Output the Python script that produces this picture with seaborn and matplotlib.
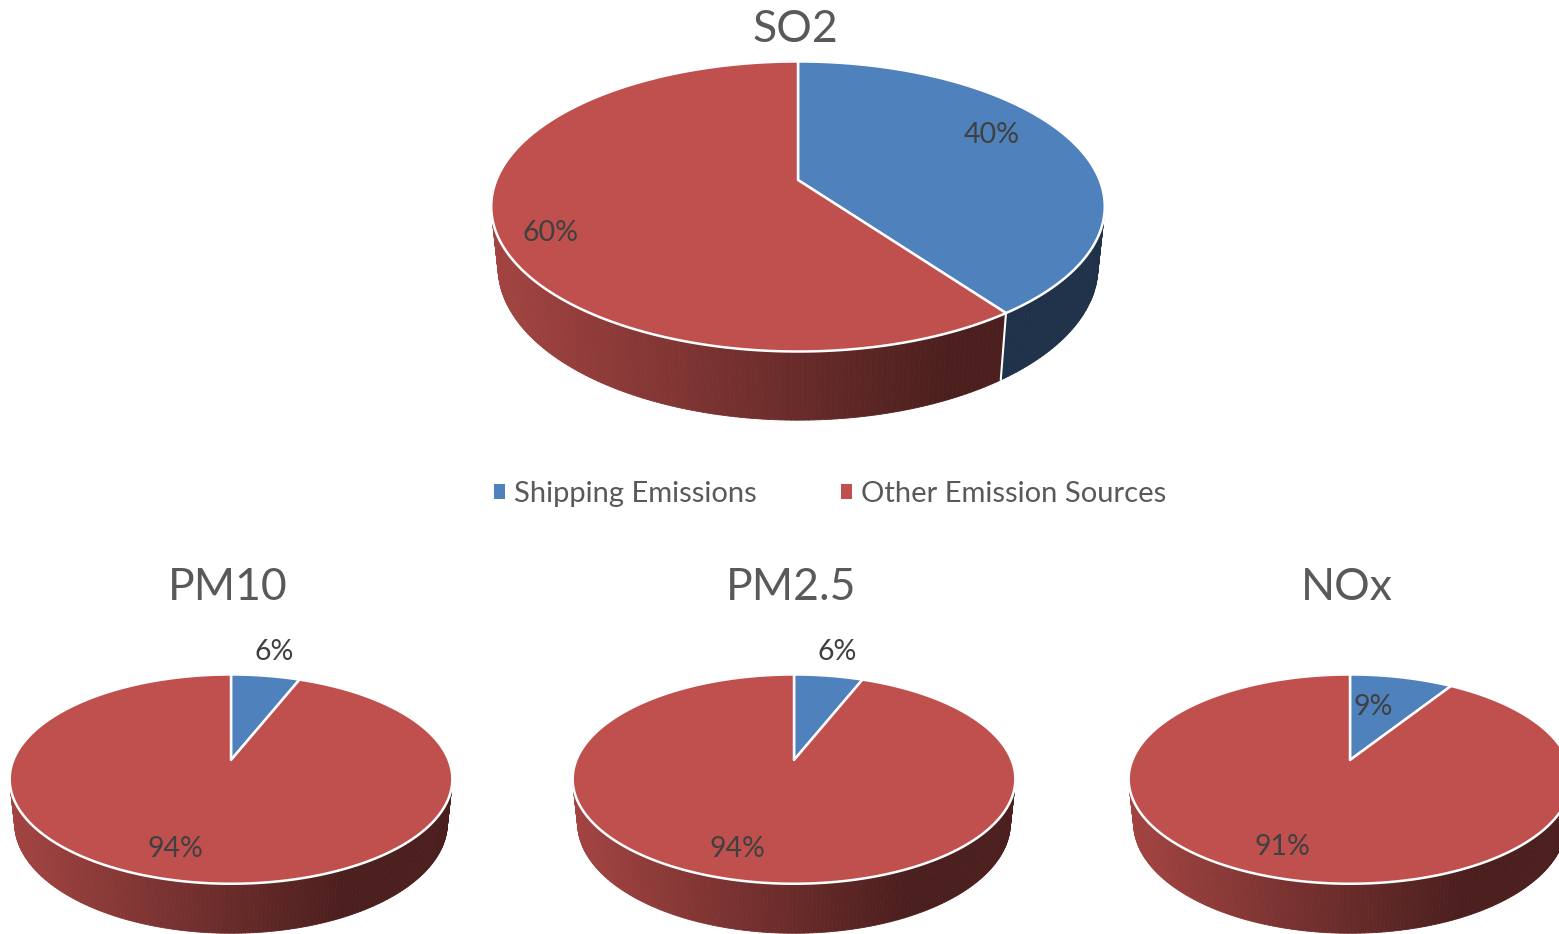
import numpy as np
import matplotlib
matplotlib.use("Agg")
import matplotlib.pyplot as plt
from matplotlib.collections import PolyCollection
from matplotlib.patches import Polygon, Patch
import seaborn as sns

# data (percent of total emissions)
pollutants = ["SO2", "PM10", "PM2.5", "NOx"]
sources = ["Shipping Emissions", "Other Emission Sources"]
shipping = [40, 6, 6, 9]
other = [60, 94, 94, 91]

sns.set_theme(style="white")
plt.rcParams["font.family"] = ["Lato", "DejaVu Sans"]

colors = sns.color_palette(["#4F81BD", "#C0504D"])

# layout in pixels: pie centre (apex of slices) and radius scale
W, H = 1559, 934
pie_pos = {"SO2": (798, 180, 301.6), "PM10": (231, 760, 217.6),
           "PM2.5": (794, 760, 217.6), "NOx": (1350, 760, 217.6)}
title_y = {"SO2": 30, "PM10": 588, "PM2.5": 588, "NOx": 588}
label_off = {"SO2": [(194, -45), (-247, 53)], "PM10": [(43, -108), (-56, 89)],
             "PM2.5": [(43, -108), (-57, 89)], "NOx": [(23, -53), (-68, 87)]}

# simple perspective camera
ELEV = np.radians(27.7)
DIST = 4.85
DEPTH = 0.23


def project(cx, cy, s, X, Y, Z):
    w = (DIST - Y * np.cos(ELEV) - Z * np.sin(ELEV)) / DIST
    return cx + s * X / w, cy + s * (Y * np.sin(ELEV) - Z * np.cos(ELEV)) / w


def rim(cx, cy, s, th, z):
    return np.column_stack(project(cx, cy, s, np.sin(th), -np.cos(th), z))


def draw_pie(ax, name, vals):
    cx, cy, s = pie_pos[name]
    vals = np.asarray(vals, float)
    bounds = np.concatenate([[0], np.cumsum(vals) / vals.sum()]) * 2 * np.pi
    xl = cx - s * 1.02
    span = 2 * s * 1.02 * 0.75

    # side wall, back to front
    quads, fcols, order = [], [], []
    for i in range(len(vals)):
        th = np.linspace(bounds[i], bounds[i + 1], max(3, int(400 * vals[i] / vals.sum())))
        top = rim(cx, cy, s, th, 0)
        bot = rim(cx, cy, s, th, -DEPTH)
        base = np.array(colors[i])
        for j in range(len(th) - 1):
            Y = -np.cos(0.5 * (th[j] + th[j + 1]))
            if Y < 0.15:
                continue
            q = [top[j], top[j + 1], bot[j + 1], bot[j]]
            t = np.clip((0.5 * (top[j, 0] + top[j + 1, 0]) - xl) / span, 0, 1)
            quads.append(q)
            fcols.append(np.clip(base * (0.85 - 0.46 * t), 0, 1))
            order.append(Y)
    idx = np.argsort(order)
    pc = PolyCollection([quads[k] for k in idx], facecolors=[fcols[k] for k in idx],
                        edgecolors=[fcols[k] for k in idx], linewidths=0.6, zorder=2)
    ax.add_collection(pc)

    # white seams on visible slice boundaries
    for b in bounds[:-1]:
        if -np.cos(b) > 0.24:
            p = rim(cx, cy, s, np.array([b]), 0)[0]
            q = rim(cx, cy, s, np.array([b]), -DEPTH)[0]
            ax.plot([p[0], q[0]], [p[1], q[1]], color="white", lw=1.5, zorder=3)

    # top face
    for i in range(len(vals)):
        th = np.linspace(bounds[i], bounds[i + 1], 300)
        pts = np.vstack([[cx, cy], rim(cx, cy, s, th, 0)])
        ax.add_patch(Polygon(pts, closed=True, facecolor=colors[i], edgecolor="white",
                             lw=1.8, joinstyle="round", zorder=4))

    # labels
    for i, (dx, dy) in enumerate(label_off[name]):
        ax.text(cx + dx, cy + dy, f"{vals[i]:.0f}%", ha="center", va="center",
                fontsize=20.5, color="#404040", zorder=5)
    ax.text(cx - 3, title_y[name], name, ha="center", va="center",
            fontsize=32, color="#595959", zorder=5)


fig = plt.figure(figsize=(W / 100, H / 100), dpi=100)
ax = fig.add_axes([0, 0, 1, 1])
ax.set_xlim(0, W)
ax.set_ylim(H, 0)
ax.axis("off")

for k, name in enumerate(pollutants):
    draw_pie(ax, name, [shipping[k], other[k]])

handles = [Patch(facecolor=c, edgecolor="none") for c in colors]
ax.legend(handles, sources, loc="center", bbox_to_anchor=(830 / W, 1 - 494 / H),
          ncol=2, frameon=False, fontsize=21, handlelength=0.38, handleheight=0.38,
          handletextpad=0.3, columnspacing=2.9, labelcolor="#595959")

fig.savefig("out.png", dpi=100)
